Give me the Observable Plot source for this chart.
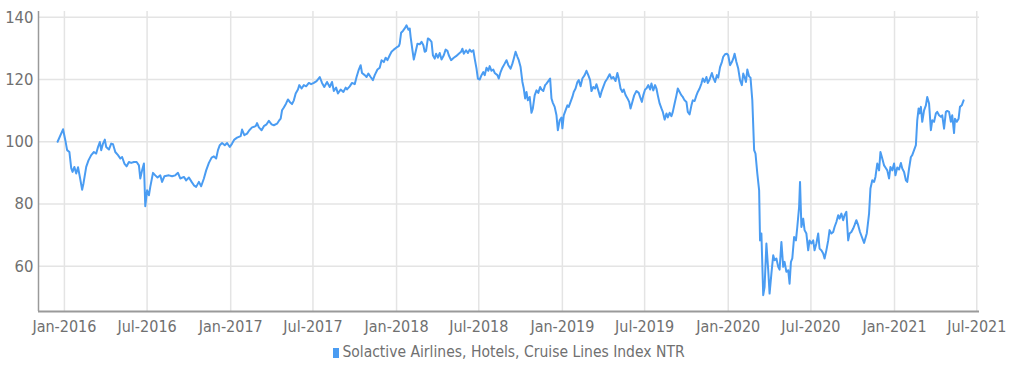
<!DOCTYPE html>
<html><head><meta charset="utf-8">
<script src="https://cdn.jsdelivr.net/npm/d3@7"></script>
<script src="https://cdn.jsdelivr.net/npm/@observablehq/plot@0.6"></script>
<style>
body{margin:0;background:#fff;font-family:"Liberation Sans Narrow","DejaVu Sans Condensed","Roboto",sans-serif;}
#legend{width:1018px;text-align:center;font-size:15.5px;color:#707070;height:26px;line-height:24px;}
#legend .sw{display:inline-block;width:6px;height:10px;background:#4a9cf2;margin-right:3px;vertical-align:-1px;}
</style></head><body>
<div id="chart"></div>
<div id="legend"></div>
<script>
const seriesName = "Solactive Airlines, Hotels, Cruise Lines Index NTR";
const baseDate = "2016-01-01";          // day offsets below are counted from this date
const dayOffsets = [-15,-3,2,6,11,15,18,22,26,30,34,39,42,48,53,59,65,70,74,78,81,85,89,92,98,103,107,112,118,123,127,132,137,142,147,153,159,164,167,171,175,178,182,186,189,195,200,205,211,215,220,230,237,244,250,255,263,268,274,280,285,290,296,301,307,312,318,324,329,334,338,342,347,353,358,364,369,374,380,388,391,396,402,407,413,421,424,428,434,439,445,450,456,461,468,473,476,479,483,488,492,496,501,505,509,514,517,522,527,532,538,543,549,555,562,567,572,578,584,589,593,598,602,608,614,619,622,628,633,639,643,648,652,655,661,665,669,674,679,683,689,694,698,703,707,711,716,720,725,731,736,738,741,745,749,753,757,760,762,766,769,773,777,782,786,790,793,796,800,804,808,811,815,818,822,826,830,835,839,843,846,851,857,862,868,873,876,879,884,888,892,896,900,903,907,910,914,918,922,925,929,933,936,940,944,947,953,956,960,964,969,973,977,982,986,989,993,997,1000,1004,1008,1011,1014,1017,1020,1024,1028,1031,1035,1039,1043,1047,1050,1054,1058,1061,1065,1069,1072,1075,1079,1083,1086,1090,1094,1096,1099,1103,1107,1110,1114,1118,1121,1125,1129,1132,1136,1140,1145,1149,1153,1157,1160,1164,1168,1171,1175,1179,1182,1186,1190,1195,1200,1204,1208,1213,1217,1220,1224,1228,1231,1235,1239,1243,1246,1250,1254,1259,1264,1267,1271,1274,1278,1281,1285,1289,1292,1296,1300,1303,1306,1310,1314,1317,1321,1325,1328,1332,1336,1339,1343,1347,1350,1354,1358,1361,1365,1369,1372,1376,1380,1383,1387,1391,1394,1398,1402,1405,1409,1413,1416,1420,1425,1428,1432,1436,1439,1443,1447,1450,1454,1458,1461,1465,1469,1472,1475,1479,1483,1487,1491,1494,1498,1500,1503,1507,1510,1514,1518,1521,1525,1529,1531,1534,1538,1541,1545,1549,1552,1556,1560,1563,1567,1571,1574,1578,1582,1585,1589,1593,1596,1599,1602,1606,1610,1613,1617,1619,1622,1626,1629,1633,1637,1640,1644,1648,1651,1655,1659,1662,1666,1670,1673,1677,1681,1684,1688,1692,1695,1699,1703,1706,1710,1714,1717,1721,1725,1728,1732,1736,1739,1743,1747,1751,1760,1766,1771,1774,1778,1782,1785,1789,1793,1796,1800,1804,1807,1811,1815,1818,1822,1826,1829,1833,1837,1841,1844,1848,1852,1855,1859,1863,1866,1870,1874,1877,1880,1882,1885,1888,1892,1896,1899,1903,1907,1910,1914,1918,1921,1925,1929,1932,1936,1940,1943,1947,1951,1954,1958,1960,1964,1968,1971,1975,1979];
const values = [100,104,100.5,97.3,96.7,91.5,90.3,91.9,89.8,91.8,88.7,84.6,86.6,91.9,94,95.7,96.7,96.2,98.3,99.9,97.3,99.4,100.7,98.3,97.5,99.4,99.2,96.7,95.7,94.6,95.1,93,92.1,93.5,93.2,93.5,93.5,92.4,88.2,90.8,93,79.3,84.4,82.8,85.5,90,89.2,88.5,89.2,87.1,88.9,89.2,88.9,89.2,90,88.2,88.7,87.6,88.5,87.1,86,85.5,87.1,85.7,88.2,90.8,93.2,94.9,95.3,94.6,97.3,98.9,99.6,98.9,99.6,98.3,99.4,100.7,101.3,101.8,103.9,102.1,102.6,103.7,104.6,105,106,104.6,103.7,105,105.6,106.7,105.6,105.3,105.8,106.9,107.4,110.1,111,112.3,113.6,112.8,112.1,113.3,115.5,116.8,118.2,117.1,118.2,117.8,118.9,118.5,118.9,119.5,120.8,118.9,117.6,119.2,117.6,119.2,116.3,117.4,115.5,116.8,116,117.4,116.8,117.8,118.9,118.5,120.8,123.2,124.6,122.1,121.4,120.8,121.9,120.8,119.8,121.4,123.2,123.8,126.2,125.6,127,126.2,127.8,128.9,129.6,130.3,130.7,131.5,135,135.6,136.4,137.4,136,136.4,133.7,129.4,126.4,128.9,131.5,131.3,132.1,131,128.9,129.2,133.2,132.8,132.1,127.8,126.7,128.3,127,128.5,126.4,127.8,129.6,129.2,127.8,126.2,127,127.5,128.3,128.9,129.9,128.3,129.4,128.5,129.6,128.9,129.4,126.7,123.5,120.3,120,121.4,122.4,121.4,123.8,122.8,124.3,122.8,123.2,122.1,121.4,120.3,122.4,123.8,125.1,126.2,124.6,123.5,125.1,126.7,128.9,127.3,126.2,124,119.2,117.1,113.9,116,113.3,114.4,109.3,110.7,114.9,116.5,115.7,117.6,116.8,116.3,118.2,118.7,119.5,120.3,113.9,112.5,111.2,108.5,103.7,106.9,107.8,104.3,108.5,110.1,111.7,111.2,112.8,114.4,116,117.1,119.2,119.8,117.8,120.3,121.4,122.8,121.4,119.8,116.3,117.6,117.1,118.5,116.5,114.4,116,117.6,119.2,120.3,121.7,120.3,120.8,119.5,122.1,120.3,117.1,116,116.8,115,114,112.8,110.7,112.8,114.9,116.3,115.7,114.4,112.8,114.9,116.8,117.1,118.2,116.8,118.7,116.5,118.2,117.1,114.9,112.3,110.7,109.6,107.1,109.1,107.8,109.3,108.2,109.6,112.3,114.9,117.1,116,114.9,114.4,113.3,112.8,109.6,108.8,111.7,113.3,113.1,114.9,116,117.1,118.7,120.3,119.2,120.8,118.9,120,122.1,120.6,119.2,121.4,120.6,124,125.6,127.3,128.1,128.3,127.8,124.6,125.6,126.7,128.3,125.6,123.5,119.8,118.2,121.9,120.3,119.2,123.2,121,120.6,113.3,97.3,96.2,89.8,84.4,68.3,70.5,50.7,53.3,67.3,58.7,51.2,57.6,63.5,61.9,62.5,59.8,58.9,67.8,59.8,61.4,58.2,58.7,54.4,61.4,62.5,69.4,68.3,72.6,79.1,87.1,72.6,75.3,71.6,70.5,65.1,68.3,67.3,68.3,65.1,67.3,70.5,65.7,65.1,64.1,62.5,65.1,68.3,71.6,70.5,71,72.6,74.2,76.4,75.3,76.9,74.8,76.4,77.5,68.3,70.5,71,72.1,73.2,74.8,73.2,71,67.5,70.6,77,85,87.6,87.1,88.7,93,90.8,96.7,94.6,92.4,91.7,90.8,88.2,91.9,90.8,93,89.2,91.7,91.1,93.2,91.4,90.3,87.6,87.1,91.4,95.1,95.7,97.3,98.9,106.9,110.7,109.1,111.2,106.4,110.1,111.7,114.4,112.3,103.7,106.9,106.4,109.1,109.6,108.5,108,108.5,104.2,109.6,109.9,109.6,106.4,108.5,102.8,107.4,106.4,107.4,111.2,111.7,113.3];
const yTicks = [60, 80, 100, 120, 140];
const xTickDates = ["2016-01-01","2016-07-01","2017-01-01","2017-07-01","2018-01-01","2018-07-01","2019-01-01","2019-07-01","2020-01-01","2020-07-01","2021-01-01","2021-07-01"];
const xDomain = ["2015-11-05", "2021-07-07"];
const yDomain = [45.45, 141.85];

const base = new Date(baseDate + "T00:00:00Z");
const data = dayOffsets.map((d, i) => ({date: d3.utcDay.offset(base, d), value: values[i]}));
const xTicks = xTickDates.map(s => new Date(s + "T00:00:00Z"));
const xd = xDomain.map(s => new Date(s + "T00:00:00Z"));
const fontFam = '"Liberation Sans Narrow","DejaVu Sans Condensed","Roboto",sans-serif';
const blue = "#4a9cf2";

const chart = Plot.plot({
  width: 1018,
  height: 340,
  marginLeft: 38,
  marginRight: 39,
  marginTop: 11,
  marginBottom: 29,
  style: {fontFamily: fontFam, fontSize: "16px", color: "#707070", background: "#fff", overflow: "visible"},
  x: {type: "utc", domain: xd},
  y: {domain: yDomain},
  marks: [
    Plot.gridX(xTicks, {stroke: "#e4e4e4", strokeOpacity: 1, strokeWidth: 1.5}),
    Plot.gridY(yTicks, {stroke: "#e4e4e4", strokeOpacity: 1, strokeWidth: 1.5}),
    Plot.axisX(xTicks, {tickSize: 0, tickPadding: 9, tickFormat: d3.utcFormat("%b-%Y"), fill: "#707070", fontSize: 16, label: null}),
    Plot.axisY(yTicks, {tickSize: 0, tickPadding: 5, fill: "#707070", fontSize: 16.5, label: null}),
    Plot.ruleX([xd[0]], {stroke: "#9a9a9a", strokeWidth: 1.5}),
    Plot.ruleY([yDomain[0]], {stroke: "#9a9a9a", strokeWidth: 2}),
    Plot.line(data, {x: "date", y: "value", stroke: blue, strokeWidth: 2})
  ]
});
document.getElementById("chart").appendChild(chart);
const lg = document.getElementById("legend");
lg.innerHTML = '<span class="sw"></span>' + seriesName;
</script>
</body></html>
